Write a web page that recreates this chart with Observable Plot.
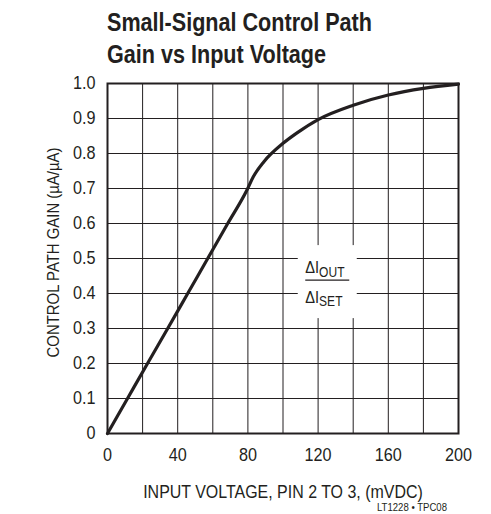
<!DOCTYPE html>
<html><head><meta charset="utf-8">
<script src="https://cdn.jsdelivr.net/npm/d3@7"></script>
<script src="https://cdn.jsdelivr.net/npm/@observablehq/plot@0.6"></script>
<style>
html,body{margin:0;padding:0;background:#fff;overflow:hidden;}
#wrap{position:relative;width:491px;height:514px;overflow:hidden;}
.narrow{font-family:"Liberation Sans Narrow","Arial Narrow","Liberation Sans",Arial,sans-serif;}
#title{position:absolute;left:107px;top:7px;font-size:25.5px;font-weight:bold;line-height:31.6px;color:#231f20;white-space:nowrap;}
#title span{display:inline-block;transform-origin:0 50%;}
#note{position:absolute;left:377px;top:502px;font-size:10px;line-height:12px;color:#231f20;white-space:nowrap;transform-origin:0 50%;}
#chart{position:absolute;left:0;top:0;}
</style></head><body>
<div id="wrap">
<div id="chart"></div>
<div id="title" class="narrow"><span>Small-Signal Control Path</span><br><span>Gain vs Input Voltage</span></div>
<div id="note" class="narrow">LT1228 • TPC08</div>
</div>
<script>
// Data
const voltage = [0, 11.4, 22.8, 34.3, 45.7, 57.1, 68.5, 79.4, 83, 89, 100, 108, 120, 140, 160, 180, 200];
const gain    = [0, 0.1, 0.2, 0.3, 0.4, 0.5, 0.6, 0.695, 0.733, 0.776, 0.829, 0.859, 0.897, 0.938, 0.967, 0.986, 0.998];
const xTicks = [0, 40, 80, 120, 160, 200];
const xGrid  = [0, 20, 40, 60, 80, 100, 120, 140, 160, 180, 200];
const yTicks = [0, 0.1, 0.2, 0.3, 0.4, 0.5, 0.6, 0.7, 0.8, 0.9, 1.0];
const xLabel = "INPUT VOLTAGE, PIN 2 TO 3, (mVDC)";
const yLabel = "CONTROL PATH GAIN (µA/µA)";
const ratioAnchor = [{x: 125.5, y: 0.434}];

const data = voltage.map((v, i) => ({v, g: gain[i]}));
const FONT = '"Liberation Sans Narrow","Arial Narrow","Liberation Sans",Arial,sans-serif';
const INK = "#231f20";

const chart = Plot.plot({
  width: 491, height: 514,
  marginLeft: 107, marginRight: 33, marginTop: 83, marginBottom: 81,
  style: {fontFamily: FONT, fontSize: "18px", color: INK, background: "#fff"},
  x: {domain: [0, 200]},
  y: {domain: [0, 1]},
  marks: [
    Plot.gridX(xGrid, {stroke: INK, strokeOpacity: 1, strokeWidth: 1}),
    Plot.gridY(yTicks, {stroke: INK, strokeOpacity: 1, strokeWidth: 1}),
    Plot.frame({stroke: INK, strokeWidth: 2}),
    Plot.axisX(xTicks, {tickSize: 0, tickPadding: 15, label: null, fontSize: 18}),
    Plot.axisY(yTicks, {tickSize: 0, tickPadding: 12, label: null, fontSize: 18,
      tickFormat: d => d === 0 ? "0" : d.toFixed(1)}),
    Plot.text([xLabel], {frameAnchor: "bottom", dy: 64, fontSize: 18, lineAnchor: "bottom", textAnchor: "middle", fill: INK}),
    Plot.text([yLabel], {frameAnchor: "left", dx: -54, dy: -6, rotate: -90, fontSize: 16, textAnchor: "middle", fill: INK}),
    Plot.line(data, {x: "v", y: "g", curve: "monotone-x", stroke: INK, strokeWidth: 3.2})
  ]
});
document.getElementById("chart").append(chart);
const svgEl = chart.tagName.toLowerCase() === "svg" ? chart : chart.querySelector("svg");
const svg = d3.select(svgEl);

// Condense glyphs horizontally (no narrow face installed)
function squeeze(el, k) {
  const t = el.getAttribute("transform") || "";
  el.setAttribute("transform", t + ` scale(${k},1)`);
}
svg.selectAll("text").each(function() {
  const txt = this.textContent;
  const len = this.getComputedTextLength();
  if (txt === xLabel) squeeze(this, 280 / len);
  else if (txt === yLabel) squeeze(this, 210 / len);
  else squeeze(this, 0.9);
});

// Ratio annotation (ΔI_OUT / ΔI_SET) positioned through the chart's scales
const sx = chart.scale("x"), sy = chart.scale("y");
ratioAnchor.forEach(a => {
  const cx = sx.apply(a.x), cy = sy.apply(a.y);
  const g = svg.append("g").attr("transform", `translate(${cx},${cy})`)
    .attr("font-family", FONT).attr("fill", INK).attr("text-anchor", "start");
  g.append("rect").attr("x", -29.5).attr("y", -36).attr("width", 59).attr("height", 73).attr("fill", "#fff");
  const num = g.append("text").attr("transform", "translate(-22,-8) scale(0.86,1)").attr("font-size", 17);
  num.append("tspan").text("ΔI");
  num.append("tspan").attr("font-size", 14).attr("dy", 4).text("OUT");
  g.append("line").attr("x1", -22).attr("x2", 22).attr("y1", -1).attr("y2", -1).attr("stroke", INK).attr("stroke-width", 1.3);
  const den = g.append("text").attr("transform", "translate(-22,22) scale(0.86,1)").attr("font-size", 17);
  den.append("tspan").text("ΔI");
  den.append("tspan").attr("font-size", 14).attr("dy", 3).text("SET");
});

// Title and footnote width matching
const spans = document.querySelectorAll("#title span");
const kTitle = 265 / spans[0].getBoundingClientRect().width;
spans.forEach(s => { s.style.transform = `scaleX(${kTitle})`; });
const note = document.getElementById("note");
note.style.transform = `scaleX(${70 / note.getBoundingClientRect().width})`;
</script>
</body></html>
